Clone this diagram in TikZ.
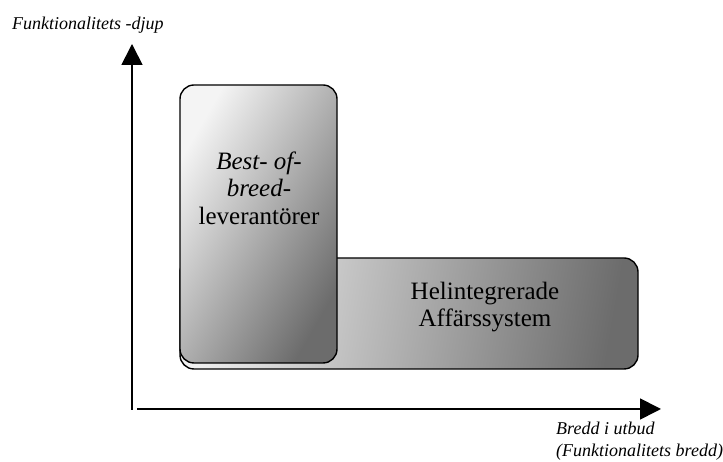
\documentclass[tikz,border=0pt]{standalone}
\usepackage{fontspec}
\setmainfont{Liberation Serif}
\usetikzlibrary{arrows.meta}

\definecolor{shadelight}{HTML}{F4F4F4}
\definecolor{shadelightb}{HTML}{F0F0F0}
\definecolor{shadedark}{HTML}{6C6C6C}

\tikzset{
  panel/.style={draw=black, line width=1.4pt, rounded corners=14pt,
    inner sep=0pt, shading=axis},
  axisline/.style={line width=1.7pt, -{Triangle[length=21pt,width=21pt]}},
  boxtext/.style={align=center, inner sep=0pt, font=\fontsize{25}{27.5}\selectfont},
  axislabel/.style={inner sep=0pt, font=\fontsize{18}{22}\selectfont\itshape}
}

\begin{document}
\begin{tikzpicture}[x=1pt,y=1pt]
  \useasboundingbox (0,0) rectangle (723,462);

  % wide panel behind, tall panel in front; both lighten towards the upper left
  \node[panel, minimum width=458pt, minimum height=111pt,
        top color=shadelightb, bottom color=shadedark, shading angle=80]
        (wide) at (409,148.5) {};
  \node[panel, minimum width=157pt, minimum height=278pt,
        top color=shadelight, bottom color=shadedark, shading angle=60]
        (tall) at (258.5,238) {};

  \node[boxtext] (talltext) at (259,274)
    {\textit{Best- of-}\\ \textit{breed-}\\ leverantörer};
  \node[boxtext] (widetext) at (485,155)
    {Helintegrerade\\ Affärssystem};

  % axes
  \coordinate (origin) at (132,52);
  \coordinate (xstart) at (137,53);
  \coordinate (ytip) at (132,418);
  \coordinate (xtip) at (661,53);
  \draw[axisline] (origin) -- (ytip);
  \draw[axisline] (xstart) -- (xtip);

  \node[axislabel, anchor=base west] (ylabel) at (12,432) {Funktionalitets -djup};
  \node[axislabel, anchor=north west, align=left] (xlabel) at (556,40)
    {Bredd i utbud\\(Funktionalitets bredd)};
\end{tikzpicture}
\end{document}
